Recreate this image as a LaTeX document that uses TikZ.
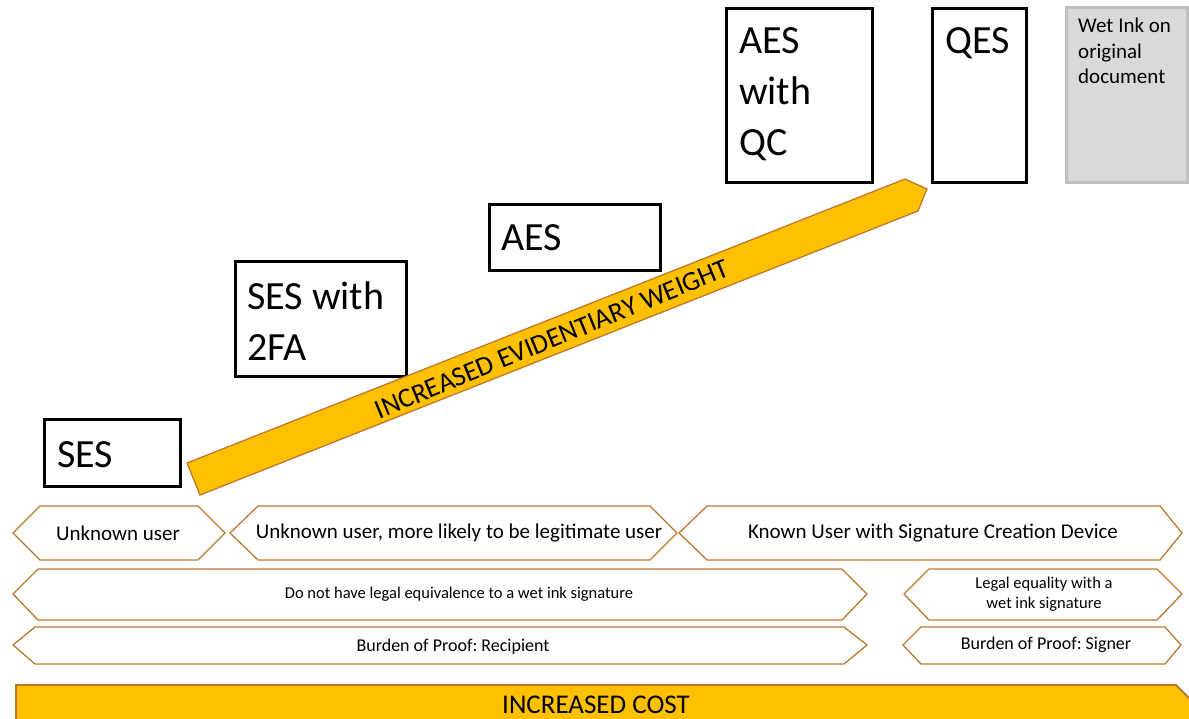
\documentclass[tikz,border=0pt]{standalone}
\usepackage{fontspec}
\setmainfont{Carlito}
\usepackage{tikz}
\usetikzlibrary{positioning}
\definecolor{gold}{HTML}{FFC000}
\definecolor{rim}{RGB}{192,120,48}
\definecolor{inkgray}{HTML}{D9D9D9}
\definecolor{inkrim}{HTML}{BFBFBF}
\frenchspacing

\begin{document}
\begin{tikzpicture}[x=1pt,y=-1pt,
	sig/.style={draw=black,line width=3pt},
	tag/.style={draw=rim,line width=1.3pt,fill=white},
	band/.style={draw=rim,line width=1.3pt,fill=gold},
	big/.style={font=\fontsize{40}{51}\selectfont,anchor=base west,align=left,inner sep=0pt},
	mid/.style={font=\fontsize{21}{25}\selectfont,inner sep=0pt},
	small/.style={font=\fontsize{16.5}{20}\selectfont,inner sep=0pt,align=center}]
		\useasboundingbox (0,0) rectangle (1189,719);
		\clip (0,0) rectangle (1189,719);
		% signature levels (multi-line nodes sit on their last baseline)
		\draw[sig] (44,419) rectangle (180,486);
		\node[big] (ses) at (57,467) {SES};
		\draw[sig] (235,262) rectangle (406,376);
		\node[big] (ses2fa) at (247,360) {SES with\\2FA};
		\draw[sig] (489,205) rectangle (660,271);
		\node[big] (aes) at (501,251) {AES};
		\draw[sig] (726,9) rectangle (872,183);
		\node[big] (aesqc) at (739,156) {AES\\with\\QC};
		\draw[sig] (932,9) rectangle (1026,183);
		\node[big] (qes) at (945,54) {QES};
		\draw[draw=inkrim,line width=3pt,fill=inkgray] (1066,8) rectangle (1187,183);
		\node[font=\fontsize{21}{25.5}\selectfont,anchor=base west,align=left,inner sep=0pt] (wetink) at (1078,84) {Wet Ink on\\original\\document};
		% evidentiary weight arrow
		\draw[band] (187,463) -- (905,179) -- (927,189) -- (918,211) -- (200,495) -- cycle;
		\node[font=\fontsize{27.5}{30}\selectfont,inner sep=0pt,rotate=22.3] (weight) at (552,339) {INCREASED EVIDENTIARY WEIGHT};
		% user row
		\draw[tag] (13,533) -- (40,506) -- (198,506) -- (225,533) -- (198,560) -- (40,560) -- cycle;
		\node[mid] (unknown) at (118,533) {Unknown user};
		\draw[tag] (230,533) -- (258,506) -- (650,506) -- (677,533) -- (650,560) -- (258,560) -- cycle;
		\node[mid] (likely) at (459,533) {Unknown user, more likely to be legitimate user};
		\draw[tag] (679,533) -- (707,506) -- (1160,506) -- (1182,533) -- (1160,560) -- (707,560) -- cycle;
		\node[mid] (known) at (933,533) {Known User with Signature Creation Device};
		% legal row
		\draw[tag] (13,594) -- (38,569) -- (842,569) -- (867,594) -- (842,620) -- (38,620) -- cycle;
		\node[small] (noequiv) at (459,594) {Do not have legal equivalence to a wet ink signature};
		\draw[tag] (904,594) -- (929,569) -- (1157,569) -- (1182,594) -- (1157,620) -- (929,620) -- cycle;
		\node[small] (equal) at (1044,594) {Legal equality with a\\wet ink signature};
		% burden row
		\draw[tag] (13,645) -- (35,627) -- (844,627) -- (867,645) -- (844,664) -- (35,664) -- cycle;
		\node[font=\fontsize{18}{22}\selectfont,inner sep=0pt] (recipient) at (453,647) {Burden of Proof: Recipient};
		\draw[tag] (903,645) -- (921,627) -- (1165,627) -- (1181,645) -- (1165,664) -- (921,664) -- cycle;
		\node[font=\fontsize{18}{22}\selectfont,inner sep=0pt] (signer) at (1046,645) {Burden of Proof: Signer};
		% cost band
		\draw[band,line width=2pt] (16,685) -- (1176,685) -- (1211,720) -- (1176,755) -- (16,755) -- cycle;
		\node[font=\fontsize{27}{30}\selectfont,inner sep=0pt] (cost) at (596,705) {INCREASED COST};
		\end{tikzpicture}
\end{document}
